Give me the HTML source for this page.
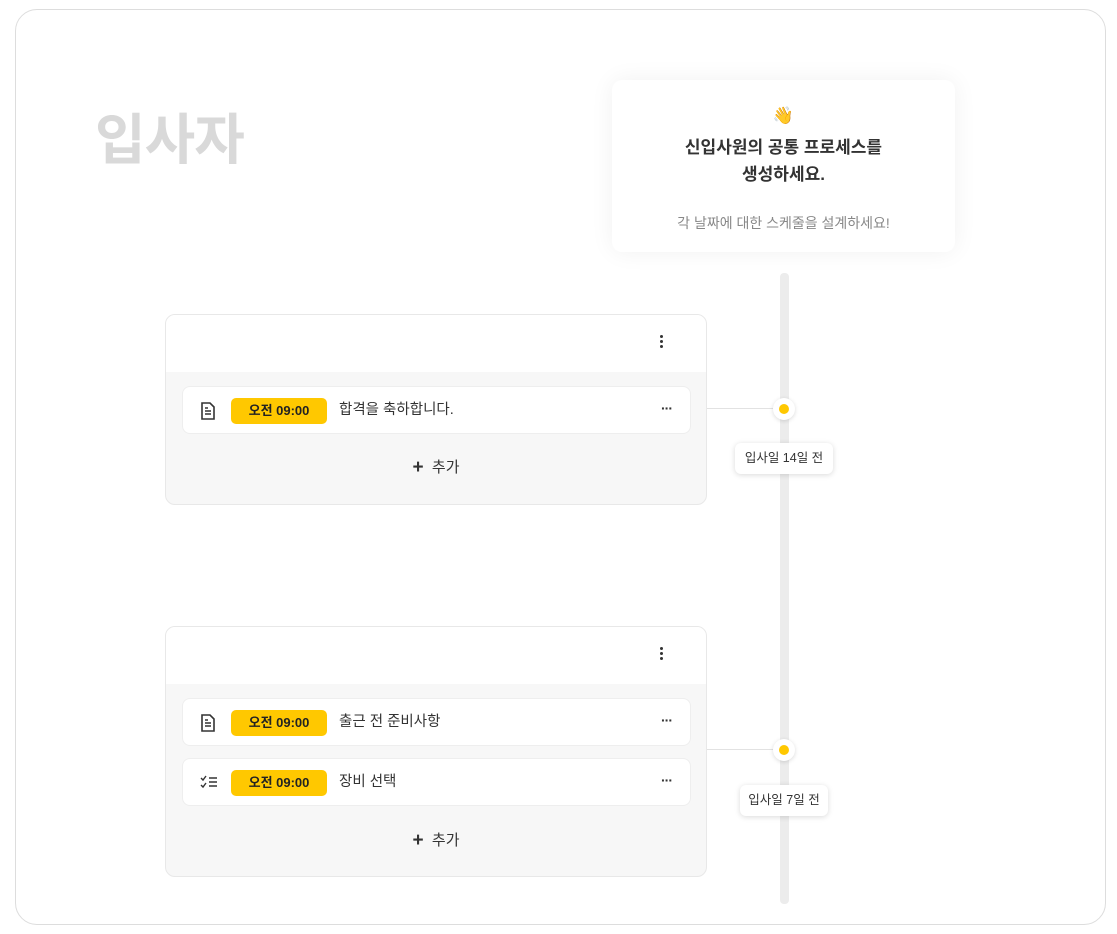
<!DOCTYPE html>
<html><head><meta charset="utf-8">
<style>
*{margin:0;padding:0;box-sizing:border-box}
body{width:1117px;height:934px;background:#fff;position:relative;overflow:hidden;font-family:"Liberation Sans","Noto Sans CJK KR",sans-serif;color:#222}
.abs{position:absolute}
.outer{left:15px;top:9px;width:1091px;height:916px;border:1px solid #ddd;border-radius:22px}
.title{left:95px;top:95px;font-size:55px;font-weight:700;color:#d9d9d9;letter-spacing:-1px}
.top{left:612px;top:80px;width:343px;height:172px;background:#fff;border-radius:10px;box-shadow:0 0 24px rgba(0,0,0,0.06);text-align:center}
.bar{left:780px;top:273px;width:9px;height:631px;background:#ececec;border-radius:4px}
.card{left:165px;width:542px;border:1px solid #e8e8e8;border-radius:10px;background:#f7f7f7;overflow:hidden}
.head{height:57px;background:#fff;position:relative}
.kebab{position:absolute;right:43px;top:20px;width:3px}
.kebab i{display:block;width:3px;height:3px;background:#333;border-radius:50%;margin-bottom:2px}
.row{position:absolute;left:16px;width:509px;height:48px;background:#fff;border-radius:8px;border:1px solid #eee}
.pill{position:absolute;left:48px;top:11px;width:96px;height:26px;background:#ffc800;border-radius:5px;font-size:13px;font-weight:700;text-align:center;line-height:26px;color:#222}
.txt{position:absolute;left:156px;top:0;line-height:46px;font-size:14.5px;color:#333}
.dots{position:absolute;right:18px;top:13px;font-size:14px;font-weight:700;letter-spacing:-1px;color:#333}
.ico{position:absolute;left:17px;top:15px}
.add{position:absolute;left:0;width:100%;text-align:center;font-size:15px;color:#333}
.add b{font-size:19px;font-weight:700;vertical-align:-1px}
.hl{height:1px;background:#e2e2e2;left:707px;width:70px}
.node{width:22px;height:22px;border-radius:50%;background:#fff;box-shadow:0 1px 4px rgba(0,0,0,0.15)}
.node i{position:absolute;left:6px;top:6px;width:10px;height:10px;border-radius:50%;background:#ffc800}
.lab{background:#fff;border-radius:6px;box-shadow:0 1px 6px rgba(0,0,0,0.15);font-size:12.5px;line-height:31px;text-align:center;color:#333}
</style></head><body>
<div class="abs outer"></div>
<div class="abs title">입사자</div>
<div class="abs top">
  <div style="margin-top:26px;font-size:17px">👋</div>
  <div style="margin-top:8px;font-size:17px;font-weight:700;line-height:27px;color:#333">신입사원의 공통 프로세스를<br>생성하세요.</div>
  <div style="margin-top:25px;font-size:14px;color:#888">각 날짜에 대한 스케줄을 설계하세요!</div>
</div>
<div class="abs bar"></div>

<div class="abs card" style="top:314px;height:191px">
  <div class="head"><div class="kebab"><i></i><i></i><i></i></div></div>
  <div class="row" style="top:71px">
    <svg class="ico" width="16" height="18" viewBox="0 0 16 18"><path d="M2 1h8l4 4v12H2z" fill="none" stroke="#333" stroke-width="1.6"/><path d="M5 9h6M5 12h6M5 6h3" stroke="#333" stroke-width="1.4"/></svg>
    <div class="pill">오전 09:00</div><div class="txt">합격을 축하합니다.</div><div class="dots">···</div>
  </div>
  <div class="add" style="top:141px"><b>+</b>&nbsp; 추가</div>
</div>

<div class="abs card" style="top:626px;height:251px">
  <div class="head"><div class="kebab"><i></i><i></i><i></i></div></div>
  <div class="row" style="top:71px">
    <svg class="ico" width="16" height="18" viewBox="0 0 16 18"><path d="M2 1h8l4 4v12H2z" fill="none" stroke="#333" stroke-width="1.6"/><path d="M5 9h6M5 12h6M5 6h3" stroke="#333" stroke-width="1.4"/></svg>
    <div class="pill">오전 09:00</div><div class="txt">출근 전 준비사항</div><div class="dots">···</div>
  </div>
  <div class="row" style="top:131px">
    <svg class="ico" width="18" height="16" viewBox="0 0 18 16"><path d="M1 4l2 2 3-4M1 11l2 2 3-4" fill="none" stroke="#333" stroke-width="1.4"/><path d="M9 4h8M9 8h8M9 12h8" stroke="#333" stroke-width="1.4"/></svg>
    <div class="pill">오전 09:00</div><div class="txt">장비 선택</div><div class="dots">···</div>
  </div>
  <div class="add" style="top:202px"><b>+</b>&nbsp; 추가</div>
</div>

<div class="abs hl" style="top:408px"></div>
<div class="abs node" style="left:773px;top:398px"><i></i></div>
<div class="abs lab" style="left:735px;top:443px;width:98px">입사일 14일 전</div>

<div class="abs hl" style="top:749px"></div>
<div class="abs node" style="left:773px;top:739px"><i></i></div>
<div class="abs lab" style="left:740px;top:785px;width:88px">입사일 7일 전</div>
</body></html>
